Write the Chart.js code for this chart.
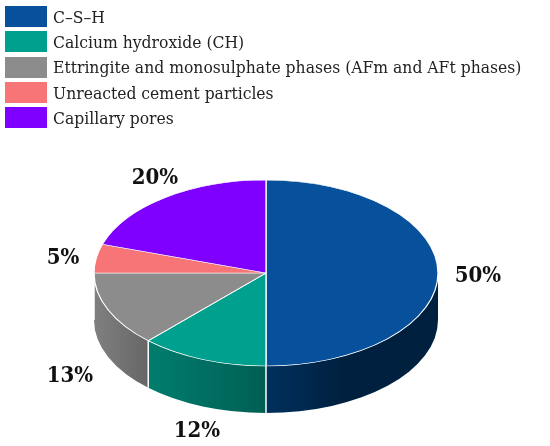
<!DOCTYPE html>
<html>
<head>
<meta charset="utf-8">
<style>
  html, body { margin: 0; padding: 0; background: #fff; }
  #wrap { position: relative; width: 550px; height: 446px; overflow: hidden; }
  #legend { position: absolute; left: 5px; top: 4px; font: 17.35px "DejaVu Serif Condensed", serif; color: #222; }
  .row { display: flex; align-items: center; height: 25.3px; white-space: nowrap; }
  .box { width: 42px; height: 21px; margin-right: 6px; flex: none; }
</style>
<script src="https://cdn.jsdelivr.net/npm/chart.js@4/dist/chart.umd.min.js"></script>
</head>
<body>
<div id="wrap">
  <canvas id="chart" width="550" height="446"></canvas>
  <div id="legend"></div>
</div>
<script>
const categories = [
  'C–S–H',
  'Calcium hydroxide (CH)',
  'Ettringite and monosulphate phases (AFm and AFt phases)',
  'Unreacted cement particles',
  'Capillary pores'
];
const shares = [50, 12, 13, 5, 20];
const topColors = ['#07519c', '#00a08e', '#8c8c8c', '#f77577', '#8000ff'];
// side wall gradient, left to right
const sideLeft = ['#00305e', '#007d6e', '#808080', '#a04c4d', '#5300a6'];
const sideRight = ['#00203f', '#005f54', '#666666', '#a04c4d', '#5300a6'];
// where the gradient reaches its right colour
const sideEnd = [0.45, 1, 1, 1, 1];

// ellipse of the top face
const centerX = 266, centerY = 273, radiusX = 172, radiusY = 93, depth = 47;

// percent labels, centre of text
const labelSpots = [[478, 276], [197, 431], [70, 376], [63, 258], [155, 178]];

const pie3d = {
  id: 'pie3d',
  beforeDatasetsDraw(chart) {
    const ctx = chart.ctx;
    const arcs = chart.getDatasetMeta(0).data;

    // side wall, only the front half shows
    arcs.forEach((arc, i) => {
      const from = Math.max(arc.startAngle, 0);
      const to = Math.min(arc.endAngle, Math.PI);
      if (to <= from) return;
      const x1 = centerX + radiusX * Math.cos(to);
      const x2 = centerX + radiusX * Math.cos(from);
      const grad = ctx.createLinearGradient(x1, 0, x2, 0);
      grad.addColorStop(0, sideLeft[i]);
      grad.addColorStop(sideEnd[i], sideRight[i]);
      ctx.beginPath();
      ctx.ellipse(centerX, centerY, radiusX, radiusY, 0, from, to);
      ctx.ellipse(centerX, centerY + depth, radiusX, radiusY, 0, to, from, true);
      ctx.closePath();
      ctx.fillStyle = grad;
      ctx.fill();
    });

    // white seams between the walls
    ctx.strokeStyle = '#fff';
    ctx.lineWidth = 1.5;
    arcs.forEach(arc => {
      if (arc.startAngle < 0 || arc.startAngle > Math.PI) return;
      const x = centerX + radiusX * Math.cos(arc.startAngle);
      const y = centerY + radiusY * Math.sin(arc.startAngle);
      ctx.beginPath();
      ctx.moveTo(x, y);
      ctx.lineTo(x, y + depth);
      ctx.stroke();
    });

    // squash the round pie into the top face
    const first = arcs[0];
    ctx.save();
    ctx.translate(centerX, centerY);
    ctx.scale(radiusX / first.outerRadius, radiusY / first.outerRadius);
    ctx.translate(-first.x, -first.y);
  },
  afterDatasetsDraw(chart) {
    const ctx = chart.ctx;
    ctx.restore();
    ctx.font = 'bold 22px "DejaVu Serif Condensed", serif';
    ctx.fillStyle = '#111';
    ctx.textAlign = 'center';
    ctx.textBaseline = 'middle';
    shares.forEach((v, i) => {
      ctx.fillText(v + '%', labelSpots[i][0], labelSpots[i][1]);
    });
  }
};

new Chart(document.getElementById('chart'), {
  type: 'pie',
  data: {
    labels: categories,
    datasets: [{
      data: shares,
      backgroundColor: topColors,
      borderColor: '#fff',
      borderWidth: 1.5,
      clip: false
    }]
  },
  options: {
    responsive: false,
    animation: false,
    layout: { padding: { left: 60, right: 60, top: 20, bottom: 20 } },
    plugins: {
      legend: { display: false },
      tooltip: { enabled: false }
    }
  },
  plugins: [pie3d]
});

// legend sits above the pie
const legendBox = document.getElementById('legend');
categories.forEach((name, i) => {
  const row = document.createElement('div');
  row.className = 'row';
  const box = document.createElement('div');
  box.className = 'box';
  box.style.background = topColors[i];
  row.appendChild(box);
  row.appendChild(document.createTextNode(name));
  legendBox.appendChild(row);
});
</script>
</body>
</html>
